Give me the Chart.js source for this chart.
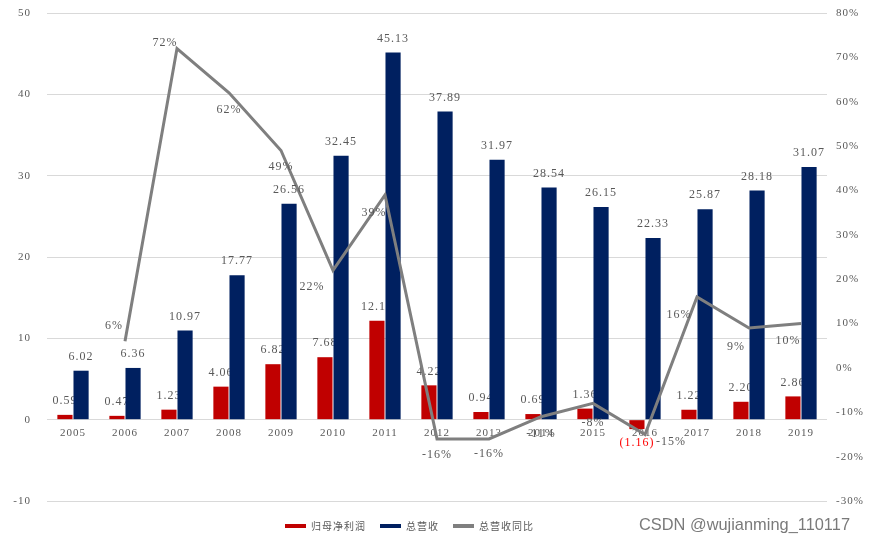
<!DOCTYPE html>
<html>
<head>
<meta charset="utf-8">
<script src="https://cdn.jsdelivr.net/npm/chart.js@4.4.1/dist/chart.umd.min.js"></script>
<style>
  html, body { margin: 0; padding: 0; background: #fff; }
  #wrap { position: relative; width: 873px; height: 547px; }
  #mark { position: absolute; left: 639px; top: 515px; font: 16.4px "Liberation Sans", Arial, sans-serif; color: #7a7a7a; white-space: nowrap; }
</style>
</head>
<body>
<div id="wrap">
  <canvas id="chart" width="873" height="547"></canvas>
  <div id="mark">CSDN @wujianming_110117</div>
</div>
<script>
// data (亿元 / %)
const years = ['2005', '2006', '2007', '2008', '2009', '2010', '2011', '2012', '2013', '2014', '2015', '2016', '2017', '2018', '2019'];
const netProfit = [0.59, 0.47, 1.23, 4.06, 6.82, 7.68, 12.16, 4.22, 0.94, 0.69, 1.36, -1.16, 1.22, 2.20, 2.86];
const revenue = [6.02, 6.36, 10.97, 17.77, 26.56, 32.45, 45.13, 37.89, 31.97, 28.54, 26.15, 22.33, 25.87, 28.18, 31.07];
const revenueYoY = [null, 6, 72, 62, 49, 22, 39, -16, -16, -11, -8, -15, 16, 9, 10];
const seriesNames = ['归母净利润', '总营收', '总营收同比'];

// where each % label sits relative to its point
const yoyLabelOffsets = [[0, 0], [-11, -15], [-12, -6], [0, 17], [0, 16], [-21, 17], [-11, 18], [0, 16], [0, 15], [0, 17], [0, 19], [26, 7], [-18, 18], [-13, 19], [-13, 17]];

const textGray = '#595959';
const numFont = '12px "Liberation Serif", "DejaVu Serif", serif';
const tickFont = { family: '"Liberation Serif", "DejaVu Serif", serif', size: 11 };

const spacing = {
  id: 'spacing',
  beforeLayout(chart) { chart.ctx.letterSpacing = '1px'; },
  afterLayout(chart) {
    // legend sits a little left of centre and lower in the reference
    chart.legend.left -= 54;
    chart.legend.top += 6;
  },
  beforeDraw(chart) { chart.ctx.letterSpacing = '1px'; }
};

function drawLabels(chart, index) {
  const ctx = chart.ctx;
  const ds = chart.data.datasets[index];
  const meta = chart.getDatasetMeta(index);
  ctx.save();
  ctx.font = numFont;
  ctx.letterSpacing = '1px';
  ctx.textAlign = 'center';
  ctx.textBaseline = 'middle';
  meta.data.forEach((el, i) => {
    const v = ds.data[i];
    if (v === null) return;
    if (ds.type === 'line') {
      const off = yoyLabelOffsets[i];
      ctx.fillStyle = textGray;
      ctx.fillText(v + '%', el.x + off[0], el.y + off[1]);
    } else if (v < 0) {
      ctx.fillStyle = '#ff0000';
      ctx.fillText('(' + Math.abs(v).toFixed(2) + ')', el.x, el.y + 14);
    } else {
      ctx.fillStyle = textGray;
      ctx.fillText(v.toFixed(2), el.x, el.y - 14);
    }
  });
  ctx.restore();
}

const valueLabels = {
  id: 'valueLabels',
  // net profit labels go under the revenue bars, as in the reference
  beforeDatasetsDraw(chart) { drawLabels(chart, 0); },
  afterDatasetsDraw(chart) { drawLabels(chart, 1); drawLabels(chart, 2); }
};

const ctx = document.getElementById('chart').getContext('2d');
const chart = new Chart(ctx, {
  data: {
    labels: years,
    datasets: [
      {
        type: 'bar',
        label: seriesNames[0],
        data: netProfit,
        backgroundColor: '#c00000',
        yAxisID: 'y',
        order: 1,
        categoryPercentage: 0.62,
        barPercentage: 0.94
      },
      {
        type: 'bar',
        label: seriesNames[1],
        data: revenue,
        backgroundColor: '#002060',
        yAxisID: 'y',
        order: 2,
        categoryPercentage: 0.62,
        barPercentage: 0.94
      },
      {
        type: 'line',
        label: seriesNames[2],
        data: revenueYoY,
        yAxisID: 'y1',
        borderColor: '#7f7f7f',
        backgroundColor: '#7f7f7f',
        borderWidth: 3,
        pointRadius: 0,
        tension: 0,
        order: 0
      }
    ]
  },
  options: {
    responsive: false,
    animation: false,
    layout: { padding: { top: 13, bottom: 12, left: 0, right: 0 } },
    scales: {
      x: {
        position: { y: 0 },
        grid: { display: false, drawTicks: false },
        border: { display: false },
        ticks: { color: textGray, font: tickFont, padding: 7, maxRotation: 0 }
      },
      y: {
        position: 'left',
        min: -10,
        max: 50,
        grid: { color: '#d9d9d9', lineWidth: 1, drawTicks: false },
        border: { display: false },
        ticks: { stepSize: 10, color: textGray, font: tickFont, padding: 16 },
        afterFit(scale) { scale.width = 47; scale.paddingTop = 0; scale.paddingBottom = 0; }
      },
      y1: {
        position: 'right',
        min: -30,
        max: 80,
        grid: { display: false, drawTicks: false },
        border: { display: false },
        ticks: { stepSize: 10, color: textGray, font: tickFont, padding: 9, callback: v => v + '%' },
        afterFit(scale) { scale.width = 46; scale.paddingTop = 0; scale.paddingBottom = 0; }
      }
    },
    plugins: {
      legend: {
        display: true,
        position: 'bottom',
        labels: {
          boxWidth: 21,
          boxHeight: 4,
          padding: 14,
          color: textGray,
          font: { family: '"Noto Sans CJK SC", sans-serif', size: 10 },
          sort: (a, b) => a.datasetIndex - b.datasetIndex,
          generateLabels(c) {
            return Chart.defaults.plugins.legend.labels.generateLabels(c).map(item => {
              item.lineWidth = 0;
              item.strokeStyle = 'transparent';
              return item;
            });
          }
        }
      },
      tooltip: { enabled: false }
    }
  },
  plugins: [spacing, valueLabels]
});
</script>
</body>
</html>
